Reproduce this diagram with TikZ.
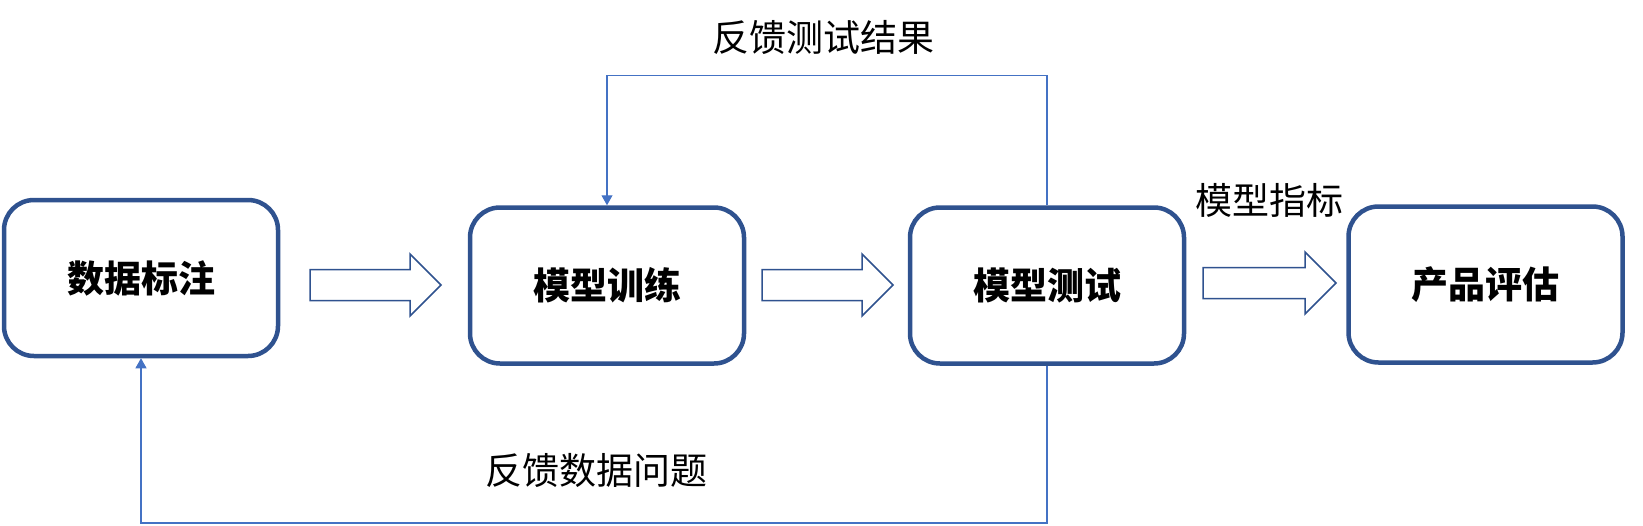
\documentclass[tikz,border=0pt]{standalone}
\usepackage{fontspec}
\setmainfont{Noto Sans CJK SC}
\usetikzlibrary{arrows.meta}
\definecolor{boxblue}{HTML}{2F528F}
\definecolor{lineblue}{HTML}{4472C4}
\tikzset{
  stagebox/.style={draw=boxblue, line width=4.5pt, rounded corners=30pt, fill=white,
    minimum width=274pt, minimum height=156pt, inner sep=0pt,
    font=\fontsize{37}{43}\selectfont\bfseries},
  blockarrow/.style={draw=boxblue, line width=1.5pt, fill=white, line join=miter},
  feedback/.style={draw=lineblue, line width=1.1pt, -{Triangle[width=11pt,length=10pt]}},
  lbl/.style={font=\fontsize{37}{43}\selectfont, inner sep=0pt}
}
\begin{document}
\begin{tikzpicture}[x=1pt,y=-1pt]
\useasboundingbox (0,0) rectangle (1643,525);
% boxes
\node[stagebox] (b1) at (141,278) {数据标注};
\node[stagebox] (b2) at (607,285.5) {模型训练};
\node[stagebox] (b3) at (1047,285.5) {模型测试};
\node[stagebox] (b4) at (1485.5,284.5) {产品评估};
% block arrows
\draw[blockarrow] (310,269.5) -- (410,269.5) -- (410,254) -- (441,285) -- (410,316) -- (410,300.5) -- (310,300.5) -- cycle;
\draw[blockarrow] (762,269.5) -- (862,269.5) -- (862,254) -- (893,285) -- (862,316) -- (862,300.5) -- (762,300.5) -- cycle;
\draw[blockarrow] (1203,267.5) -- (1305,267.5) -- (1305,252) -- (1336,283) -- (1305,314) -- (1305,298.5) -- (1203,298.5) -- cycle;
% feedback lines
\coordinate (topy) at (1047,75.5);
\coordinate (boty) at (1047,523);
\draw[feedback] (b3.north) -- (topy) -| (b2.north);
\draw[feedback] (b3.south) -- (boty) -| (b1.south);
% labels
\node[lbl] (l1) at (823,37) {反馈测试结果};
\node[lbl] (l2) at (1269,200) {模型指标};
\node[lbl] (l3) at (596,470) {反馈数据问题};
\end{tikzpicture}
\end{document}
